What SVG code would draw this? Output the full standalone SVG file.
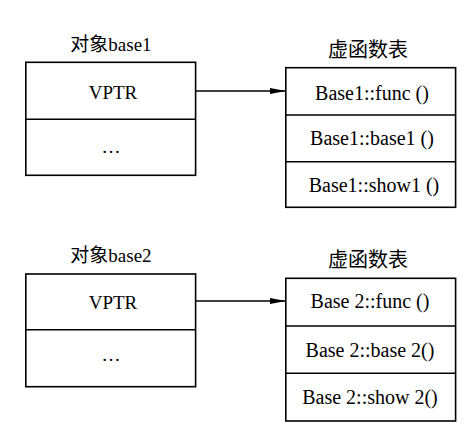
<svg xmlns="http://www.w3.org/2000/svg" width="469" height="430" viewBox="0 0 469 430">
<defs>
<style>
.box{fill:#fff;stroke:#000;stroke-width:1.6}
.div{stroke:#000;stroke-width:1.6}
.t{font-family:"Liberation Serif","Noto Sans CJK SC",serif;font-size:19px;fill:#000;text-anchor:middle}
.r{font-size:20px}
.conn{stroke:#000;stroke-width:1.4;fill:none}
</style>
<marker id="ah" markerWidth="16" markerHeight="7" refX="16" refY="3.5" orient="auto" markerUnits="userSpaceOnUse">
<path d="M0,0.5 L16,3.5 L0,6.5 Z" fill="#000"/>
</marker>
</defs>
<rect width="469" height="430" fill="#fff"/>
<g id="obj1">
<text class="t" x="111" y="50.5">对象base1</text>
<rect class="box" x="25.8" y="62.3" width="169.8" height="113"/>
<line class="div" x1="25.8" y1="119.3" x2="195.6" y2="119.3"/>
<text class="t" x="113" y="99">VPTR</text>
<text class="t" x="111" y="153">…</text>
</g>
<g id="vtbl1">
<text class="t r" x="368" y="56.7">虚函数表</text>
<rect class="box" x="285.8" y="67.7" width="169.8" height="139.6"/>
<line class="div" x1="285.8" y1="115" x2="455.6" y2="115"/>
<line class="div" x1="285.8" y1="161.7" x2="455.6" y2="161.7"/>
<text class="t r" x="372" y="100">Base1::func ()</text>
<text class="t r" x="372" y="145">Base1::base1 ()</text>
<text class="t r" x="374" y="191.7">Base1::show1 ()</text>
</g>
<g id="obj2">
<text class="t" x="111" y="261.7">对象base2</text>
<rect class="box" x="25.8" y="274" width="169.8" height="112.7"/>
<line class="div" x1="25.8" y1="329.7" x2="195.6" y2="329.7"/>
<text class="t" x="113" y="309.3">VPTR</text>
<text class="t" x="111" y="361">…</text>
</g>
<g id="vtbl2">
<text class="t r" x="368" y="267.3">虚函数表</text>
<rect class="box" x="285.8" y="278.3" width="169.8" height="142.7"/>
<line class="div" x1="285.8" y1="326" x2="455.6" y2="326"/>
<line class="div" x1="285.8" y1="373.3" x2="455.6" y2="373.3"/>
<text class="t r" x="370" y="308.3">Base 2::func ()</text>
<text class="t r" x="370" y="356.7">Base 2::base 2()</text>
<text class="t r" x="370" y="404.3">Base 2::show 2()</text>
</g>
<g id="connectors">
<line class="conn" x1="195.6" y1="91" x2="285.8" y2="91" marker-end="url(#ah)"/>
<line class="conn" x1="195.6" y1="301" x2="285.8" y2="301" marker-end="url(#ah)"/>
</g>
</svg>
